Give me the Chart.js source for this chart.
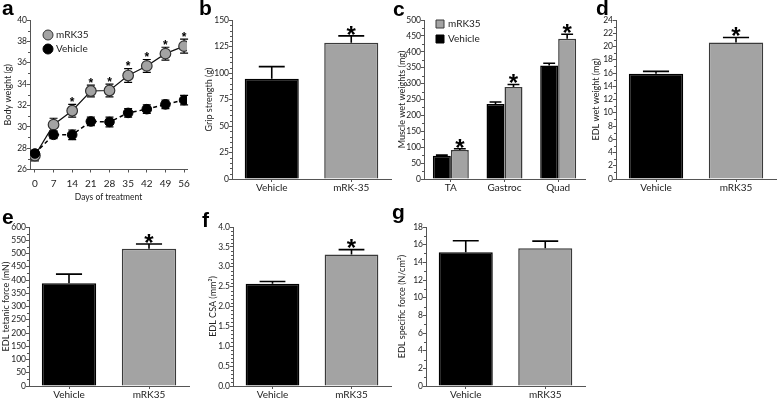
<!DOCTYPE html>
<html>
<head>
<meta charset="utf-8">
<script src="https://cdn.jsdelivr.net/npm/chart.js@4.4.1/dist/chart.umd.min.js"></script>
<style>
  body { margin: 0; background: #fff; }
  #fig { position: relative; width: 778px; height: 398px; overflow: hidden; }
  #fig canvas { position: absolute; }
  .tag { position: absolute; font: bold 21px "Liberation Sans", Arial, sans-serif; line-height: 20px; color: #000; }
</style>
</head>
<body>
<div id="fig">
  <canvas id="pa"></canvas>
  <canvas id="pb"></canvas>
  <canvas id="pc"></canvas>
  <canvas id="pd"></canvas>
  <canvas id="pe"></canvas>
  <canvas id="pf"></canvas>
  <canvas id="pg"></canvas>
  <div class="tag" style="left:2px;top:-2px">a</div>
  <div class="tag" style="left:199px;top:-2px">b</div>
  <div class="tag" style="left:393px;top:-1px">c</div>
  <div class="tag" style="left:596px;top:-2px">d</div>
  <div class="tag" style="left:2px;top:207px">e</div>
  <div class="tag" style="left:202px;top:210px">f</div>
  <div class="tag" style="left:392px;top:202px">g</div>
</div>
<script>
// a: body weight over time
const days = [0, 7, 14, 21, 28, 35, 42, 49, 56];
const bwMrk = [27.3, 30.2, 31.5, 33.35, 33.4, 34.8, 35.7, 36.85, 37.55];
const bwMrkSem = [0.5, 0.6, 0.6, 0.55, 0.6, 0.65, 0.6, 0.6, 0.65];
const bwVeh = [27.5, 29.25, 29.25, 30.5, 30.45, 31.3, 31.65, 32.1, 32.5];
const bwVehSem = [0.3, 0.35, 0.45, 0.4, 0.45, 0.4, 0.4, 0.4, 0.45];
const bwSig = [0, 0, 1, 1, 1, 1, 1, 1, 1];

// two-group panels
const groups = ['Vehicle', 'mRK35'];
const groupsGrip = ['Vehicle', 'mRK-35'];
const grip = [94.5, 128.5];
const gripSem = [11.5, 6.5];
const twoSig = [0, 1];

// c: muscle wet weights
const muscles = ['TA', 'Gastroc', 'Quad'];
const mwVeh = [73, 236, 357];
const mwVehSem = [2, 6, 7];
const mwMrk = [91, 289, 441];
const mwMrkSem = [4, 8, 14];
const mwSig = [1, 1, 1];

const edlWeight = [15.9, 20.6];
const edlWeightSem = [0.35, 0.75];
const tetanic = [388, 518];
const tetanicSem = [34, 18];
const csa = [2.57, 3.31];
const csaSem = [0.06, 0.12];
const specific = [15.15, 15.6];
const specificSem = [1.3, 0.8];
const specificSig = [0, 0];

const AXIS = '#555';
const INK = '#222';
const GREY = '#a3a3a3';
const EDGE = '#3a3a3a';
const FONT = 'Lato, "Open Sans", sans-serif';
const TICK = 8.5;
const TITLE = 9;

Chart.defaults.font.family = FONT;
Chart.defaults.color = INK;
Chart.defaults.animation = false;
Chart.defaults.plugins.legend.display = false;
Chart.defaults.plugins.tooltip.enabled = false;

function valueOf(d) { return typeof d === 'object' ? d.y : d; }

function drawErrors(chart, o) {
  const ctx = chart.ctx, ys = chart.scales.y;
  ctx.save();
  ctx.strokeStyle = '#000';
  ctx.lineWidth = o.lw || 1.5;
  chart.data.datasets.forEach((ds, i) => {
    if (!ds.errors) return;
    chart.getDatasetMeta(i).data.forEach((el, j) => {
      const v = valueOf(ds.data[j]), e = ds.errors[j];
      const half = o.cap || el.width * o.capRatio;
      const yTop = ys.getPixelForValue(v + e);
      const yBot = o.both ? ys.getPixelForValue(v - e) : el.y;
      ctx.beginPath();
      ctx.moveTo(el.x, yBot); ctx.lineTo(el.x, yTop);
      ctx.moveTo(el.x - half, yTop); ctx.lineTo(el.x + half, yTop);
      if (o.both) { ctx.moveTo(el.x - half, yBot); ctx.lineTo(el.x + half, yBot); }
      ctx.stroke();
    });
  });
  ctx.restore();
}

Chart.register({
  id: 'errorBars',
  beforeDatasetsDraw(c, a, o) { if (o && o.on && o.behind) drawErrors(c, o); },
  afterDatasetsDraw(c, a, o) { if (o && o.on && !o.behind) drawErrors(c, o); }
});

// significance stars above the error bars
Chart.register({
  id: 'stars',
  afterDatasetsDraw(chart, a, o) {
    if (!o || !o.size) return;
    const ctx = chart.ctx, ys = chart.scales.y;
    ctx.save();
    ctx.fillStyle = '#000';
    ctx.font = 'bold ' + o.size + 'px "Liberation Sans", Arial, sans-serif';
    ctx.textAlign = 'center';
    ctx.textBaseline = 'alphabetic';
    chart.data.datasets.forEach((ds, i) => {
      if (!ds.sig) return;
      chart.getDatasetMeta(i).data.forEach((el, j) => {
        if (!ds.sig[j]) return;
        const top = ys.getPixelForValue(valueOf(ds.data[j]) + ds.errors[j]);
        ctx.fillText('*', el.x, top - o.gap + 0.575 * o.size);
      });
    });
    ctx.restore();
  }
});

// little key drawn inside the plot
Chart.register({
  id: 'key',
  afterDraw(chart, a, o) {
    if (!o || !o.rows) return;
    const ctx = chart.ctx;
    ctx.save();
    o.rows.forEach((i, k) => {
      const ds = chart.data.datasets[i];
      const x = o.x, y = o.y + k * o.dy;
      ctx.fillStyle = ds.pointBackgroundColor || ds.backgroundColor;
      ctx.strokeStyle = ds.pointBorderColor || ds.borderColor;
      ctx.lineWidth = 1;
      ctx.beginPath();
      if (o.shape === 'circle') ctx.arc(x, y, o.r, 0, Math.PI * 2);
      else ctx.rect(x - o.r, y - o.r, 2 * o.r, 2 * o.r);
      ctx.fill();
      ctx.stroke();
      ctx.fillStyle = INK;
      ctx.font = o.size + 'px ' + FONT;
      ctx.textAlign = 'left';
      ctx.textBaseline = 'middle';
      ctx.fillText(ds.label, x + o.r + o.gap, y);
    });
    ctx.restore();
  }
});

// small unlabeled ticks between the y ticks
Chart.register({
  id: 'minorTicks',
  afterDraw(chart, a, o) {
    if (!o || !o.n) return;
    const s = chart.scales.y, ctx = chart.ctx;
    const t = s.ticks.map(k => k.value);
    ctx.save();
    ctx.strokeStyle = AXIS;
    ctx.lineWidth = 1;
    ctx.beginPath();
    for (let i = 0; i < t.length - 1; i++) {
      for (let k = 1; k <= o.n; k++) {
        const v = t[i] + (t[i + 1] - t[i]) * k / (o.n + 1);
        const y = Math.round(s.getPixelForValue(v)) + 0.5;
        ctx.moveTo(s.right - 2, y); ctx.lineTo(s.right, y);
      }
    }
    ctx.stroke();
    ctx.restore();
  }
});

function yAxis(min, max, step, title, fmt) {
  return {
    min, max,
    ticks: { stepSize: step, autoSkip: false, font: { size: TICK }, color: INK, padding: 0,
             callback: fmt || (v => v) },
    grid: { drawOnChartArea: false, tickLength: 3, color: AXIS },
    border: { color: AXIS },
    title: { display: true, text: title, font: { size: TITLE }, color: INK, padding: 0 }
  };
}

function xCat() {
  return {
    ticks: { font: { size: 10 }, color: INK, padding: 0, maxRotation: 0, autoSkip: false },
    grid: { drawOnChartArea: false, tickLength: 3, offset: false, color: AXIS },
    border: { color: AXIS }
  };
}

function build(id, L, type, data, scales, plugins) {
  const cv = document.getElementById(id);
  cv.width = L.box.w; cv.height = L.box.h;
  cv.style.left = L.box.x + 'px'; cv.style.top = L.box.y + 'px';
  const lh = TITLE * 1.2;
  const yw = L.area.l - (L.titleX - lh / 2);
  const xBottom = L.xTitleY ? L.xTitleY + lh / 2 : L.box.y + L.box.h;
  const xh = xBottom - L.area.b;
  scales.y.afterFit = s => { s.width = yw; };
  scales.x.afterFit = s => { s.height = xh; };
  return new Chart(cv, {
    type, data,
    options: {
      responsive: false,
      layout: { padding: {
        left: L.area.l - yw - L.box.x,
        top: L.area.t - L.box.y,
        right: L.box.x + L.box.w - L.area.r,
        bottom: L.box.y + L.box.h - xBottom
      } },
      scales, plugins
    }
  });
}

function twoBars(labels, vals, sem, sig) {
  return {
    labels,
    datasets: [{
      data: vals, errors: sem, sig,
      backgroundColor: ['#000', GREY], borderColor: ['#000', EDGE], borderWidth: 1.5,
      barPercentage: 0.68, categoryPercentage: 1
    }]
  };
}

const barPlugins = (minor, cap) => ({
  errorBars: { on: true, capRatio: cap || 0.24, lw: 1.6 },
  stars: { size: 24, gap: 7 },
  minorTicks: { n: minor }
});

// a
const xa = {
  type: 'linear', min: -1.84, max: 57.1,
  afterBuildTicks: s => { s.ticks = days.map(v => ({ value: v })); },
  ticks: { font: { size: 10 }, color: INK, padding: 5 },
  grid: { drawOnChartArea: false, tickLength: 3, color: AXIS },
  border: { color: AXIS },
  title: { display: true, text: 'Days of treatment', font: { size: 8.5 }, color: INK, padding: 0 }
};
build('pa', { box: { x: 0, y: 0, w: 195, h: 205 }, area: { l: 30, r: 190, t: 20, b: 169.5 }, titleX: 8, xTitleY: 197 },
  'line', {
    datasets: [
      { label: 'Vehicle', order: 0, data: days.map((d, i) => ({ x: d, y: bwVeh[i] })), errors: bwVehSem,
        borderColor: '#000', borderWidth: 1.5, borderDash: [4, 3], pointRadius: 4.8,
        pointBackgroundColor: '#000', pointBorderColor: '#000', pointBorderWidth: 1 },
      { label: 'mRK35', order: 1, data: days.map((d, i) => ({ x: d, y: bwMrk[i] })), errors: bwMrkSem, sig: bwSig,
        borderColor: '#111', borderWidth: 1.2, pointRadius: 5.3,
        pointBackgroundColor: GREY, pointBorderColor: '#333', pointBorderWidth: 1.2 }
    ]
  },
  { x: xa, y: yAxis(26, 40, 2, 'Body weight (g)') },
  { errorBars: { on: true, both: true, behind: true, cap: 4, lw: 1.2 },
    stars: { size: 12, gap: 5 },
    minorTicks: { n: 1 },
    key: { rows: [1, 0], shape: 'circle', x: 48, y: 35, dy: 14, r: 5, gap: 3, size: 10 } });

// b
build('pb', { box: { x: 195, y: 0, w: 197, h: 205 }, area: { l: 232, r: 391, t: 20, b: 179 }, titleX: 209 },
  'bar', twoBars(groupsGrip, grip, gripSem, twoSig),
  { x: xCat(), y: yAxis(0, 150, 25, 'Grip strength (g)') }, barPlugins(4));

// c
build('pc', { box: { x: 392, y: 0, w: 196, h: 205 }, area: { l: 424, r: 585, t: 20, b: 179 }, titleX: 402 },
  'bar', {
    labels: muscles,
    datasets: [
      { label: 'Vehicle', data: mwVeh, errors: mwVehSem, backgroundColor: '#000', borderColor: '#000',
        borderWidth: 1.5, barPercentage: 1, categoryPercentage: 0.67 },
      { label: 'mRK35', data: mwMrk, errors: mwMrkSem, sig: mwSig, backgroundColor: GREY, borderColor: EDGE,
        borderWidth: 1.5, barPercentage: 1, categoryPercentage: 0.67 }
    ]
  },
  { x: xCat(), y: yAxis(0, 500, 50, 'Muscle wet weights (mg)') },
  Object.assign(barPlugins(1, 0.33), {
    key: { rows: [1, 0], shape: 'square', x: 48, y: 24, dy: 15, r: 4, gap: 4, size: 10 }
  }));

// d
build('pd', { box: { x: 588, y: 0, w: 190, h: 205 }, area: { l: 616, r: 776, t: 20, b: 179 }, titleX: 596 },
  'bar', twoBars(groups, edlWeight, edlWeightSem, twoSig),
  { x: xCat(), y: yAxis(0, 24, 2, 'EDL wet weight (mg)') }, barPlugins(1));

// e
build('pe', { box: { x: 0, y: 205, w: 195, h: 193 }, area: { l: 29, r: 189, t: 227, b: 386 }, titleX: 6 },
  'bar', twoBars(groups, tetanic, tetanicSem, twoSig),
  { x: xCat(), y: yAxis(0, 600, 50, 'EDL tetanic force (mN)') }, barPlugins(1));

// f
build('pf', { box: { x: 195, y: 205, w: 197, h: 193 }, area: { l: 233, r: 391, t: 227, b: 386 }, titleX: 213 },
  'bar', twoBars(groups, csa, csaSem, twoSig),
  { x: xCat(), y: yAxis(0, 4, 0.5, 'EDL CSA (mm²)', v => v.toFixed(1)) }, barPlugins(4));

// g
build('pg', { box: { x: 392, y: 205, w: 196, h: 193 }, area: { l: 426, r: 585, t: 227, b: 386 }, titleX: 402 },
  'bar', twoBars(groups, specific, specificSem, specificSig),
  { x: xCat(), y: yAxis(0, 18, 2, 'EDL specific force (N/cm²)') }, barPlugins(1));
</script>
</body>
</html>
